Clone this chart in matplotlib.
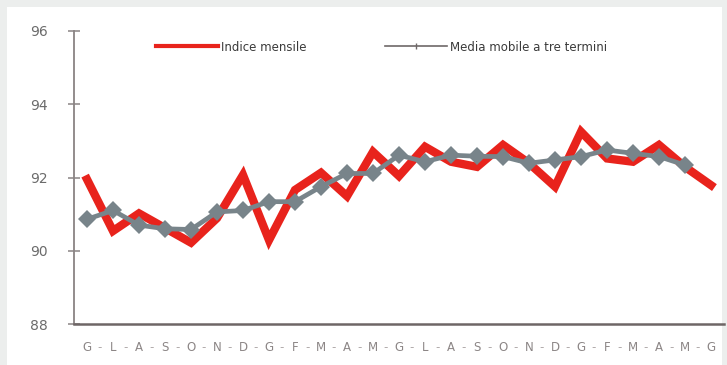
import matplotlib
matplotlib.use("Agg")
import matplotlib.pyplot as plt
from matplotlib.lines import Line2D
from matplotlib.patches import Rectangle

months = ["G", "L", "A", "S", "O", "N", "D", "G", "F", "M", "A", "M", "G",
          "L", "A", "S", "O", "N", "D", "G", "F", "M", "A", "M", "G"]

indice_mensile = [91.95, 90.54, 91.02, 90.62, 90.22, 90.89, 92.07, 90.29,
                  91.66, 92.13, 91.49, 92.70, 92.04, 92.84, 92.43, 92.29,
                  92.89, 92.39, 91.75, 93.25, 92.52, 92.43, 92.89, 92.29,
                  91.79]

media_mobile = [90.86, 91.10, 90.70, 90.60, 90.58, 91.06, 91.10, 91.34,
                91.34, 91.75, 92.11, 92.11, 92.61, 92.43, 92.61, 92.58,
                92.57, 92.39, 92.48, 92.57, 92.75, 92.66, 92.57, 92.34]

y_ticks = [88, 90, 92, 94, 96]

RED = "#e8231c"
GREY = "#78848a"
TXT = "#6b6b6b"

fig = plt.figure(figsize=(7.27, 3.65), dpi=100, facecolor="#eceeed")
fig.patches.append(Rectangle((7 / 727, 0), 715 / 727, 358 / 365,
                             transform=fig.transFigure, facecolor="white",
                             edgecolor="none", zorder=-10))

ax = fig.add_axes([74 / 727, 41 / 365, 650 / 727, 293 / 365])
ax.set_facecolor("none")
ax.set_zorder(5)

x = list(range(len(months)))
ax.plot(x, indice_mensile, color=RED, lw=6, solid_joinstyle="miter",
        zorder=3)
ax.plot(x[:len(media_mobile)], media_mobile, color=GREY, lw=3.4,
        marker="D", markersize=9, markeredgewidth=0, zorder=4)

ax.set_xlim(-0.5, 24.5)
ax.set_ylim(88, 96)
ax.set_yticks(y_ticks)
ax.set_yticklabels([str(v) for v in y_ticks])
ax.set_xticks(x)
ax.set_xticklabels(months)
ax.set_xticks([i + 0.5 for i in x[:-1]], minor=True)
ax.set_xticklabels(["-"] * (len(x) - 1), minor=True)

for s in ("top", "right"):
    ax.spines[s].set_visible(False)
ax.spines["left"].set_color("#8a8484")
ax.spines["left"].set_linewidth(1.3)
ax.spines["bottom"].set_color("#6e6666")
ax.spines["bottom"].set_linewidth(1.8)

ax.tick_params(axis="y", direction="inout", length=8, width=1.1,
               color="#8a8484", labelsize=10, labelcolor=TXT, pad=15)
ax.tick_params(axis="x", which="major", length=0, labelsize=8.5,
               labelcolor="#8c8686", pad=12)
ax.tick_params(axis="x", which="minor", length=0, labelsize=8.5,
               labelcolor="#b0aaaa", pad=12)

handles = [
    Line2D([], [], color=RED, lw=3),
    Line2D([], [], color="#6e6868", lw=1.2, marker="|", markersize=5),
]
fig.legend(handles, ["Indice mensile", "Media mobile a tre termini"],
           loc="upper left", bbox_to_anchor=(145 / 727, 1 - 30 / 365),
           ncol=2, frameon=False, fontsize=8.5, handlelength=5.3,
           columnspacing=6.6, handletextpad=0.25, labelcolor="#3a3a3a")

fig.savefig("out.png", dpi=100, facecolor=fig.get_facecolor())
